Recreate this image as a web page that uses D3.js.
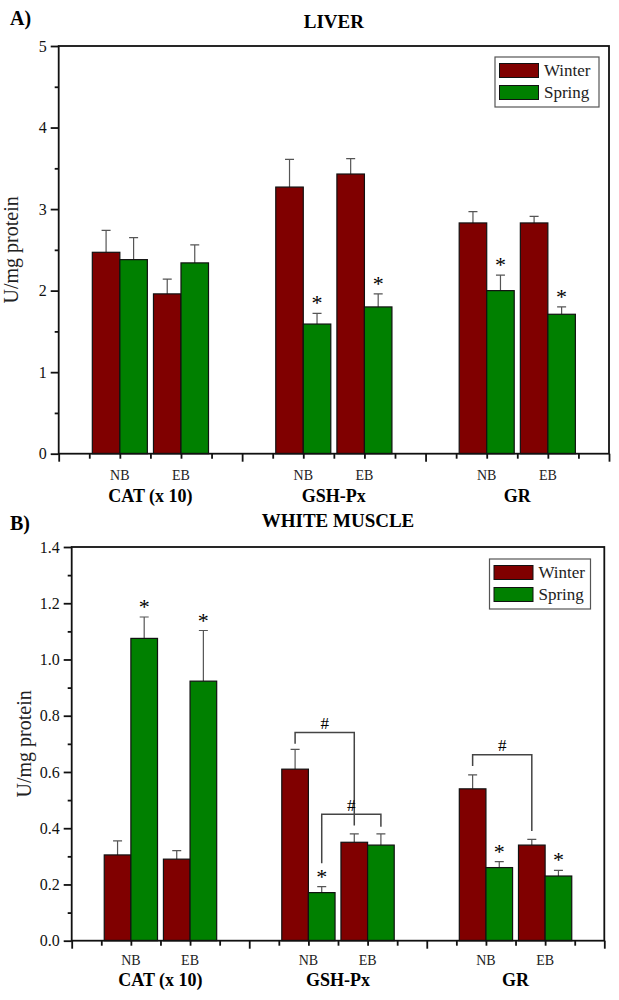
<!DOCTYPE html>
<meta charset="utf-8">
<style>
body { margin: 0; background: #fff; }
svg, svg text { font-family: "Liberation Serif", "Times New Roman", serif; }
</style>
<svg width="619" height="1000"></svg>
<script src="https://d3js.org/d3.v7.min.js"></script>
<script>
// categories
var groups = ["CAT (x 10)", "GSH-Px", "GR"];
var sites = ["NB", "EB"];
var seasons = ["Winter", "Spring"];
var seasonColors = ["#800000", "#008000"];

// liver (U/mg protein), order: CAT NB, CAT EB, GSH NB, GSH EB, GR NB, GR EB
var liverWinter   = [2.47, 1.96, 3.27, 3.43, 2.83, 2.83];
var liverWinterSD = [0.27, 0.18, 0.34, 0.19, 0.14, 0.08];
var liverSpring   = [2.38, 2.34, 1.59, 1.80, 2.00, 1.71];
var liverSpringSD = [0.27, 0.22, 0.13, 0.16, 0.19, 0.09];
var liverSpringSig = [false, false, true, true, true, true];

// white muscle
var muscleWinter   = [0.305, 0.29, 0.61, 0.35, 0.54, 0.34];
var muscleWinterSD = [0.05, 0.03, 0.07, 0.03, 0.05, 0.02];
var muscleSpring   = [1.075, 0.923, 0.171, 0.34, 0.26, 0.23];
var muscleSpringSD = [0.076, 0.18, 0.021, 0.04, 0.021, 0.02];
var muscleSpringSig = [true, true, true, false, true, true];

// "#" brackets in white muscle: bar index + season, top level, leg ends
var muscleBrackets = [
  {a: 2, sa: 0, b: 3, sb: 0, top: 0.74, endA: 0.70, endB: 0.41},
  {a: 2, sa: 1, b: 3, sb: 1, top: 0.45, endA: 0.275, endB: 0.405},
  {a: 4, sa: 0, b: 5, sb: 0, top: 0.661, endA: 0.621, endB: 0.39}
];

var liverTicks = [0, 1, 2, 3, 4, 5];
var muscleTicks = [0, 0.2, 0.4, 0.6, 0.8, 1.0, 1.2, 1.4];

var serif = "Liberation Serif, Times New Roman, serif";
var svg = d3.select("svg");

function barPos(i) { return Math.floor(i / 2) * 6 + 2 + (i % 2) * 2; }

function drawPanel(p) {
  var x = d3.scaleLinear().domain([0, 18]).range([p.left, p.right]);
  var y = d3.scaleLinear().domain(p.domain).range([p.bottom, p.top]);
  var g = svg.append("g");

  // bar records
  var bars = [];
  for (var i = 0; i < 6; i++) {
    bars.push({i: i, s: 0, pos: barPos(i), v: p.winter[i], sd: p.winterSD[i], sig: false});
    bars.push({i: i, s: 1, pos: barPos(i), v: p.spring[i], sd: p.springSD[i], sig: p.springSig[i]});
  }
  function bx0(d) { return d.s == 0 ? x(d.pos - 0.9) : x(d.pos); }
  function bcx(d) { return d.s == 0 ? x(d.pos - 0.45) : x(d.pos + 0.45); }

  // error bars (upper only)
  g.selectAll(".err").data(bars).enter().append("path")
    .attr("d", function(d) {
      var cx = bcx(d), y1 = y(d.v), y2 = y(d.v + d.sd);
      return "M" + cx + "," + y1 + "V" + y2 + "M" + (cx - 4.5) + "," + y2 + "H" + (cx + 4.5);
    })
    .attr("fill", "none").attr("stroke", "#555").attr("stroke-width", 1.2);

  g.selectAll(".bar").data(bars).enter().append("rect")
    .attr("x", bx0)
    .attr("y", function(d) { return y(d.v); })
    .attr("width", x(0.9) - x(0))
    .attr("height", function(d) { return y(0) - y(d.v); })
    .attr("fill", function(d) { return seasonColors[d.s]; })
    .attr("stroke", "#111").attr("stroke-width", 1.2);

  // significance asterisks
  g.selectAll(".star").data(bars.filter(function(d) { return d.sig; })).enter().append("text")
    .attr("x", bcx)
    .attr("y", function(d) { return y(d.v + d.sd) - 3; })
    .attr("text-anchor", "middle")
    .attr("font-size", 22)
    .text("*");

  // brackets
  (p.brackets || []).forEach(function(b) {
    var xa = bcx({s: b.sa, pos: barPos(b.a)});
    var xb = bcx({s: b.sb, pos: barPos(b.b)});
    g.append("path")
      .attr("d", "M" + xa + "," + y(b.endA) + "V" + y(b.top) + "H" + xb + "V" + y(b.endB))
      .attr("fill", "none").attr("stroke", "#444").attr("stroke-width", 1.5);
    g.append("text")
      .attr("x", (xa + xb) / 2).attr("y", y(b.top) - 3.5)
      .attr("text-anchor", "middle").attr("font-size", 17)
      .text("#");
  });

  // frame
  g.append("rect")
    .attr("x", p.left).attr("y", p.top)
    .attr("width", p.right - p.left).attr("height", p.bottom - p.top)
    .attr("fill", "none").attr("stroke", "#111").attr("stroke-width", 1.8);

  // y axis
  var yAxis = g.append("g").attr("transform", "translate(" + p.left + ",0)")
    .call(d3.axisLeft(y).tickValues(p.ticks).tickSize(8).tickPadding(4)
      .tickFormat(p.fmt));
  yAxis.attr("font-family", serif).attr("font-size", 16);
  yAxis.select(".domain").remove();
  yAxis.selectAll("line").attr("stroke", "#111").attr("stroke-width", 1.8);
  yAxis.selectAll("text").attr("font-family", serif).attr("font-size", 16).attr("fill", "#111");
  var minorY = g.append("g").attr("transform", "translate(" + p.left + ",0)")
    .call(d3.axisLeft(y).tickValues(p.minor).tickSize(4).tickFormat(""));
  minorY.select(".domain").remove();
  minorY.selectAll("line").attr("stroke", "#111").attr("stroke-width", 1.8);

  // x axis ticks
  var xAxis = g.append("g").attr("transform", "translate(0," + p.bottom + ")")
    .call(d3.axisBottom(x).tickValues([0, 6, 12, 18]).tickSize(8).tickFormat(""));
  xAxis.select(".domain").remove();
  xAxis.selectAll("line").attr("stroke", "#111").attr("stroke-width", 1.8);
  var minorX = g.append("g").attr("transform", "translate(0," + p.bottom + ")")
    .call(d3.axisBottom(x).tickValues(d3.range(1, 18).filter(function(v) { return v % 6; }))
      .tickSize(5).tickFormat(""));
  minorX.select(".domain").remove();
  minorX.selectAll("line").attr("stroke", "#111").attr("stroke-width", 1.8);

  // site labels and group labels
  groups.forEach(function(name, gi) {
    sites.forEach(function(s, si) {
      g.append("text").attr("x", x(gi * 6 + 2 + si * 2)).attr("y", p.siteY)
        .attr("text-anchor", "middle").attr("font-size", 14).attr("fill", "#222").text(s);
    });
    g.append("text").attr("x", x(gi * 6 + 3)).attr("y", p.groupY)
      .attr("text-anchor", "middle").attr("font-size", 18).attr("font-weight", "bold")
      .text(name);
  });

  // y label
  g.append("text")
    .attr("transform", "translate(" + (p.left - 41) + "," + ((p.top + p.bottom) / 2) + ") rotate(-90)")
    .attr("text-anchor", "middle").attr("font-size", 20).attr("fill", "#222")
    .text("U/mg protein");

  // titles
  g.append("text").attr("x", 10).attr("y", p.tagY)
    .attr("font-size", 20).attr("font-weight", "bold").text(p.tag);
  g.append("text").attr("x", (p.left + p.right) / 2).attr("y", p.titleY)
    .attr("text-anchor", "middle").attr("font-size", 19).attr("font-weight", "bold")
    .text(p.title);

  // legend
  var lg = g.append("g").attr("transform", "translate(" + p.legX + "," + p.legY + ")");
  lg.append("rect").attr("width", p.legW).attr("height", 50)
    .attr("fill", "#fff").attr("stroke", "#555").attr("stroke-width", 1.2);
  seasons.forEach(function(s, si) {
    lg.append("rect").attr("x", 4.5).attr("y", 6.5 + si * 22).attr("width", 39).attr("height", 14)
      .attr("fill", seasonColors[si]).attr("stroke", "#111").attr("stroke-width", 1);
    lg.append("text").attr("x", 49).attr("y", 19 + si * 22)
      .attr("font-size", 17).attr("fill", "#222").text(s);
  });
}

drawPanel({
  tag: "A)", title: "LIVER", tagY: 25, titleY: 28,
  left: 58.7, right: 609, top: 46, bottom: 453.7,
  domain: [0, 5], ticks: liverTicks, minor: [0.5, 1.5, 2.5, 3.5, 4.5],
  fmt: d3.format("d"),
  winter: liverWinter, winterSD: liverWinterSD,
  spring: liverSpring, springSD: liverSpringSD, springSig: liverSpringSig,
  siteY: 480, groupY: 502,
  legX: 495, legY: 57, legW: 104
});

drawPanel({
  tag: "B)", title: "WHITE MUSCLE", tagY: 530, titleY: 527,
  left: 71.7, right: 604.3, top: 547, bottom: 940.7,
  domain: [0, 1.4], ticks: muscleTicks, minor: [0.1, 0.3, 0.5, 0.7, 0.9, 1.1, 1.3],
  fmt: d3.format(".1f"),
  winter: muscleWinter, winterSD: muscleWinterSD,
  spring: muscleSpring, springSD: muscleSpringSD, springSig: muscleSpringSig,
  brackets: muscleBrackets,
  siteY: 965, groupY: 986,
  legX: 489.5, legY: 559, legW: 101
});
</script>
